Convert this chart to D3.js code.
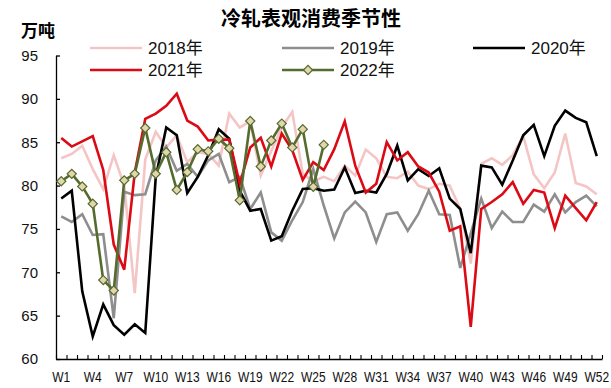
<!DOCTYPE html>
<html>
<head>
<meta charset="utf-8">
<script src="https://cdn.jsdelivr.net/npm/d3@7"></script>
<style>
  html, body { margin: 0; padding: 0; background: #fff; }
  svg { display: block; }
  .num { font-family: "Liberation Sans", Arial, "Noto Sans CJK SC", sans-serif; }
  .cjk { font-family: "Noto Sans CJK SC", sans-serif; }
</style>
</head>
<body>
<svg id="chart" width="611" height="388"></svg>
<script>
// Weekly apparent consumption of cold-rolled steel (10k tonnes), W1..W52
const weeks = d3.range(1, 53).map(i => "W" + i);
const weekLabels = weeks.filter((w, i) => i % 3 === 0);
const yTicks = [60, 65, 70, 75, 80, 85, 90, 95];
const seriesNames = ["2018年", "2019年", "2020年", "2021年", "2022年"];

const y2018 = [83.15, 83.65, 84.6, 81.9, 79.6, 83.5, 80.0, 67.6, 83.0, 86.2,
  84.4, 85.8, 82.7, 83.85, 83.65, 82.3, 88.3, 86.7, 87.4, 81.15,
  84.0, 86.7, 88.5, 81.35, 80.5, 81.0, 80.5, 82.3, 81.15, 84.15,
  83.15, 81.0, 80.85, 81.6, 80.0, 79.6, 80.2, 80.0, 77.3, 71.0,
  82.5, 83.15, 82.4, 83.5, 85.7, 81.3, 79.7, 81.5, 86.0, 80.3,
  79.9, 79.0];
const y2019 = [76.45, 75.8, 76.7, 74.3, 74.4, 64.7, 79.3, 78.9, 79.0, 82.9,
  84.5, 81.7, 82.5, 81.0, 82.9, 83.65, 80.4, 81.0, 77.3, 79.2,
  74.6, 73.65, 76.0, 78.1, 81.9, 77.7, 73.9, 76.9, 78.15, 76.9,
  73.5, 76.7, 76.9, 74.8, 76.7, 79.4, 76.7, 76.6, 70.5, 74.5,
  78.5, 75.1, 77.0, 75.8, 75.8, 77.8, 77.0, 79.0, 76.9, 78.1,
  78.85, 77.6];
const y2020 = [78.5, 79.4, 67.8, 62.6, 66.3, 63.9, 62.8, 64.0, 63.0, 81.0,
  86.7, 85.8, 79.15, 81.0, 83.5, 86.5, 85.4, 79.4, 77.1, 77.3,
  73.65, 74.15, 77.1, 79.6, 79.7, 79.4, 79.55, 82.1, 79.15, 79.4,
  79.2, 81.35, 84.6, 80.6, 81.9, 81.1, 82.0, 78.5, 77.3, 72.2,
  82.3, 82.1, 80.1, 82.9, 85.8, 87.0, 83.4, 86.9, 88.65, 87.8,
  87.3, 83.4];
const y2021 = [85.5, 84.5, 85.1, 85.7, 81.8, 73.2, 70.3, 81.5, 87.7, 88.3,
  89.2, 90.6, 87.5, 86.8, 85.2, 85.3, 85.3, 80.2, 84.4, 85.5,
  82.2, 86.0, 84.1, 80.65, 82.7, 81.8, 84.2, 87.4, 82.3, 79.2,
  80.2, 85.0, 82.9, 83.85, 82.2, 81.5, 79.3, 74.8, 75.3, 63.7,
  77.3, 78.1, 79.0, 80.4, 77.9, 79.5, 79.2, 75.1, 78.85, 77.4,
  76.0, 78.1];
const y2022 = [80.5, 81.35, 79.9, 77.9, 69.1, 67.9, 80.6, 81.35, 86.65, 81.35,
  83.85, 79.5, 81.55, 84.2, 83.95, 85.4, 84.3, 78.3, 87.45, 82.2,
  85.2, 87.15, 84.4, 86.5, 79.85, 84.7];

const colors = ["#f5c5c5", "#8e8e8e", "#000000", "#dc0a14", "#566b2e"];
const values = [y2018, y2019, y2020, y2021, y2022];

const svg = d3.select("#chart");
const plotLeft = 56, plotRight = 602, plotTop = 55.5, plotBottom = 359;

const x = d3.scaleBand().domain(weeks).range([plotLeft, plotRight]);
const xEdge = d3.scaleLinear().domain([0, weeks.length]).range([plotLeft, plotRight]);
const y = d3.scaleLinear().domain([60, 95]).range([plotBottom, plotTop]);
const cx = w => x(w) + x.bandwidth() / 2;

// Title and unit
svg.append("text").attr("class", "cjk")
  .attr("x", 311).attr("y", 26).attr("text-anchor", "middle")
  .attr("font-size", 20).attr("font-weight", "bold").text("冷轧表观消费季节性");
svg.append("text").attr("class", "cjk")
  .attr("x", 21).attr("y", 37)
  .attr("font-size", 17).attr("font-weight", "bold").text("万吨");

// Y axis
const yAxis = svg.append("g").attr("transform", `translate(${plotLeft},0)`)
  .call(d3.axisLeft(y).tickValues(yTicks).tickSize(-4).tickSizeOuter(0).tickPadding(18));
yAxis.select(".domain").attr("stroke", "#000").attr("stroke-width", 1.3);
yAxis.selectAll(".tick line").attr("stroke", "#000").attr("stroke-width", 1.3);
yAxis.selectAll(".tick text").attr("class", "num").attr("font-size", 15).attr("fill", "#111");

// X axis: tick marks on week boundaries, labels every third week
const xTicks = svg.append("g").attr("transform", `translate(0,${plotBottom})`)
  .call(d3.axisBottom(xEdge).tickValues(d3.range(0, weeks.length + 1)).tickSize(-4)
    .tickSizeOuter(0).tickFormat(""));
xTicks.select(".domain").attr("stroke", "#000").attr("stroke-width", 1.3);
xTicks.selectAll(".tick line").attr("stroke", "#000").attr("stroke-width", 1.1);

const xLabels = svg.append("g").attr("transform", `translate(0,${plotBottom})`)
  .call(d3.axisBottom(x).tickValues(weekLabels).tickSize(0).tickPadding(12));
xLabels.select(".domain").remove();
// condensed week labels
xLabels.selectAll(".tick text").attr("class", "num").attr("font-size", 15)
  .attr("fill", "#111").attr("transform", "scale(0.8,1)");

// Series lines
const line = d3.line().x((d, i) => cx(weeks[i])).y(d => y(d));
const plot = svg.append("g");
values.forEach((vals, k) => {
  plot.append("path").datum(vals)
    .attr("fill", "none").attr("stroke", colors[k])
    .attr("stroke-width", 2.6).attr("stroke-linejoin", "miter")
    .attr("d", line);
});

// Diamond markers on 2022
const diamond = d3.symbol(d3.symbolSquare, 42);
plot.selectAll(".mk").data(y2022).join("path")
  .attr("class", "mk")
  .attr("d", diamond)
  .attr("transform", (d, i) => `translate(${cx(weeks[i])},${y(d)}) rotate(45)`)
  .attr("fill", "#e2d6ad").attr("stroke", "#566b2e").attr("stroke-width", 1.2);

// Legend
const legendPos = [[90, 48], [282, 48], [473, 48], [90, 70], [282, 70]];
seriesNames.forEach((name, k) => {
  const [lx, ly] = legendPos[k];
  const g = svg.append("g").attr("transform", `translate(${lx},${ly})`);
  g.append("line").attr("x1", 0).attr("x2", 52).attr("y1", 0).attr("y2", 0)
    .attr("stroke", colors[k]).attr("stroke-width", 2.6);
  if (k === 4) {
    g.append("path").attr("d", diamond).attr("transform", "translate(26,0) rotate(45)")
      .attr("fill", "#e2d6ad").attr("stroke", "#566b2e").attr("stroke-width", 1.2);
  }
  g.append("text").attr("class", "num").attr("x", 58).attr("y", 6)
    .attr("font-size", 17).attr("fill", "#111").text(name);
});
</script>
</body>
</html>
